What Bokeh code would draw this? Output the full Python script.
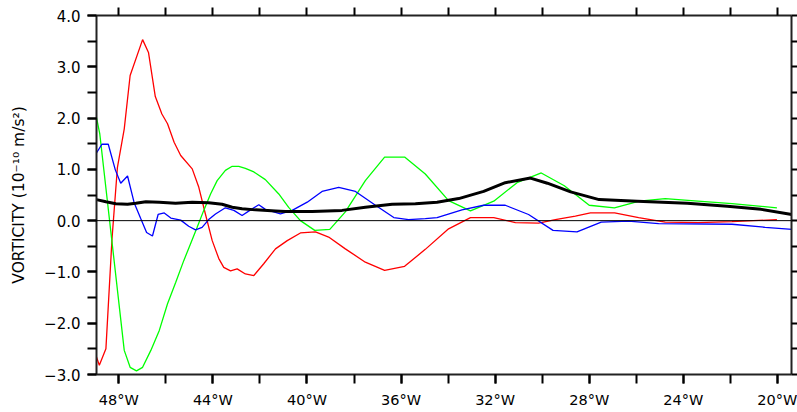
from bokeh.plotting import figure
from bokeh.models import Range1d, LinearAxis, FixedTicker, CustomJSTickFormatter, Span
from bokeh.embed import file_html
from bokeh.resources import INLINE

# ---- data (longitude in degrees, negative = West; vorticity in 1e-10 m/s^2) ----
red_lon = [-48.95, -48.83, -48.55, -48.29, -48.06, -47.77, -47.52, -46.99, -46.74, -46.45,
           -46.17, -45.93, -45.65, -45.37, -44.88, -44.60, -44.32, -44.03, -43.75, -43.54,
           -43.25, -42.97, -42.62, -42.26, -41.84, -41.34, -40.84, -40.28, -39.64, -39.08,
           -38.37, -37.52, -36.70, -35.85, -34.97, -33.98, -33.05, -32.06, -31.14, -30.15,
           -29.44, -28.59, -27.95, -26.92, -25.90, -24.77, -23.35, -21.93, -20.02]
red_val = [-2.66, -2.82, -2.50, -0.35, 1.04, 1.79, 2.83, 3.53, 3.28, 2.42,
           2.08, 1.89, 1.53, 1.27, 1.01, 0.65, 0.13, -0.39, -0.74, -0.91,
           -0.98, -0.94, -1.04, -1.07, -0.84, -0.55, -0.39, -0.24, -0.22, -0.32,
           -0.55, -0.81, -0.97, -0.89, -0.56, -0.16, 0.06, 0.06, -0.04, -0.05,
           0.02, 0.09, 0.15, 0.15, 0.06, -0.03, -0.04, -0.02, 0.02]

green_lon = [-48.95, -48.81, -47.77, -47.52, -47.25, -46.99, -46.64, -46.28, -45.93, -45.58,
             -45.24, -44.95, -44.67, -44.39, -44.10, -43.82, -43.47, -43.18, -42.90, -42.62,
             -42.26, -41.77, -41.20, -40.78, -40.28, -39.67, -39.03, -38.37, -37.52, -36.70,
             -35.85, -34.97, -33.98, -33.05, -32.06, -31.07, -30.04, -29.06, -28.00, -26.93,
             -25.87, -24.77, -23.66, -21.93, -20.02]
green_val = [2.01, 1.69, -2.53, -2.86, -2.93, -2.86, -2.53, -2.14, -1.62, -1.20,
             -0.78, -0.45, -0.13, 0.20, 0.52, 0.78, 0.98, 1.06, 1.06, 1.02,
             0.95, 0.80, 0.52, 0.26, 0.00, -0.19, -0.17, 0.17, 0.78, 1.24,
             1.24, 0.91, 0.39, 0.19, 0.38, 0.74, 0.93, 0.68, 0.30, 0.25,
             0.38, 0.43, 0.39, 0.33, 0.25]

blue_lon = [-48.95, -48.72, -48.45, -48.15, -47.92, -47.63, -47.35, -47.07, -46.82, -46.57,
            -46.33, -46.07, -45.79, -45.37, -45.03, -44.74, -44.46, -44.18, -43.89, -43.47,
            -43.11, -42.76, -42.40, -42.05, -41.77, -41.13, -40.63, -39.99, -39.36, -38.65,
            -37.94, -37.09, -36.31, -35.68, -34.97, -34.47, -33.41, -32.49, -31.57, -30.58,
            -29.54, -28.52, -27.49, -26.33, -25.05, -21.93, -20.52, -19.38]
blue_val = [1.32, 1.49, 1.49, 0.99, 0.73, 0.87, 0.35, 0.04, -0.23, -0.30,
            0.12, 0.15, 0.05, 0.01, -0.11, -0.18, -0.13, 0.02, 0.13, 0.25,
            0.20, 0.10, 0.21, 0.31, 0.22, 0.13, 0.20, 0.36, 0.57, 0.65,
            0.57, 0.30, 0.06, 0.02, 0.04, 0.06, 0.21, 0.30, 0.30, 0.12,
            -0.19, -0.22, -0.03, -0.01, -0.06, -0.07, -0.13, -0.17]

black_lon = [-48.95, -48.55, -48.13, -47.63, -47.28, -46.85, -46.28, -45.59, -44.88, -44.18,
             -43.61, -43.18, -42.76, -42.19, -41.34, -40.92, -39.78, -38.51, -37.52, -36.38,
             -35.39, -34.47, -33.55, -32.49, -31.57, -30.50, -29.78, -28.79, -27.58, -25.96,
             -23.83, -22.13, -20.69, -19.39]
black_val = [0.41, 0.37, 0.33, 0.32, 0.34, 0.37, 0.36, 0.34, 0.36, 0.35,
             0.32, 0.26, 0.23, 0.21, 0.19, 0.18, 0.18, 0.20, 0.26, 0.32,
             0.33, 0.36, 0.43, 0.57, 0.74, 0.83, 0.73, 0.56, 0.41, 0.38,
             0.34, 0.28, 0.22, 0.12]

x_major = [-48, -44, -40, -36, -32, -28, -24, -20]
x_minor = [-48, -46, -44, -42, -40, -38, -36, -34, -32, -30, -28, -26, -24, -22, -20]
y_major = [-3, -2, -1, 0, 1, 2, 3, 4]
y_minor = [-3, -2.5, -2, -1.5, -1, -0.5, 0, 0.5, 1, 1.5, 2, 2.5, 3, 3.5, 4]
x_start, x_end = -48.95, -19.40
y_start, y_end = -3.0, 4.0
y_title = "VORTICITY (10\u207b\u00b9\u2070 m/s\u00b2)"

FONT = "DejaVu Sans"

p = figure(width=797, height=412, output_backend="svg", toolbar_location=None,
           x_range=Range1d(x_start, x_end), y_range=Range1d(y_start, y_end),
           min_border_left=96, min_border_right=6, min_border_top=15, min_border_bottom=38,
           x_axis_location=None, y_axis_location=None)
p.xgrid.visible = False
p.ygrid.visible = False
p.outline_line_color = None
p.background_fill_color = "white"
p.border_fill_color = "white"

def style_axis(ax, tick_out):
    ax.axis_line_color = "#222222"
    ax.axis_line_width = 2
    ax.major_tick_in = 0
    ax.minor_tick_in = 0
    ax.major_tick_out = tick_out
    ax.minor_tick_out = tick_out
    ax.major_tick_line_color = "black"
    ax.minor_tick_line_color = "black"
    ax.major_tick_line_width = 2
    ax.minor_tick_line_width = 2
    ax.major_label_text_font = FONT
    ax.major_label_text_color = "black"

# bottom axis
xb = LinearAxis(ticker=FixedTicker(ticks=x_major, minor_ticks=x_minor),
                formatter=CustomJSTickFormatter(code="return Math.abs(tick) + '\u00b0W';"))
style_axis(xb, 9)
xb.major_label_text_font_size = "14.5px"
xb.major_label_standoff = 8
p.add_layout(xb, "below")

# top axis (ticks only)
xt = LinearAxis(ticker=FixedTicker(ticks=x_minor, minor_ticks=[]),
                formatter=CustomJSTickFormatter(code="return '';"))
style_axis(xt, 8)
xt.major_label_text_font_size = "0px"
xt.major_label_standoff = 0
p.add_layout(xt, "above")

# left axis
yl = LinearAxis(ticker=FixedTicker(ticks=y_major, minor_ticks=y_minor),
                formatter=CustomJSTickFormatter(
                    code="return (tick < 0 ? '\u2212' : '') + Math.abs(tick).toFixed(1);"))
style_axis(yl, 9)
yl.major_label_text_font_size = "15px"
yl.major_label_standoff = 7
yl.axis_label = y_title
yl.axis_label_text_font = FONT
yl.axis_label_text_font_size = "15.5px"
yl.axis_label_text_font_style = "normal"
yl.axis_label_text_color = "black"
yl.axis_label_standoff = 13
p.add_layout(yl, "left")

# right axis (ticks only)
yr = LinearAxis(ticker=FixedTicker(ticks=y_minor, minor_ticks=[]),
                formatter=CustomJSTickFormatter(code="return '';"))
style_axis(yr, 6)
yr.major_label_text_font_size = "0px"
yr.major_label_standoff = 0
p.add_layout(yr, "right")

p.add_layout(Span(location=0, dimension="width", line_color="black", line_width=1))

p.line(red_lon, red_val, line_color="#FF0000", line_width=1.3)
p.line(green_lon, green_val, line_color="#00FF00", line_width=1.3)
p.line(blue_lon, blue_val, line_color="#0000FF", line_width=1.3)
p.line(black_lon, black_val, line_color="black", line_width=3)

open("out.html", "w").write(file_html(p, INLINE))
